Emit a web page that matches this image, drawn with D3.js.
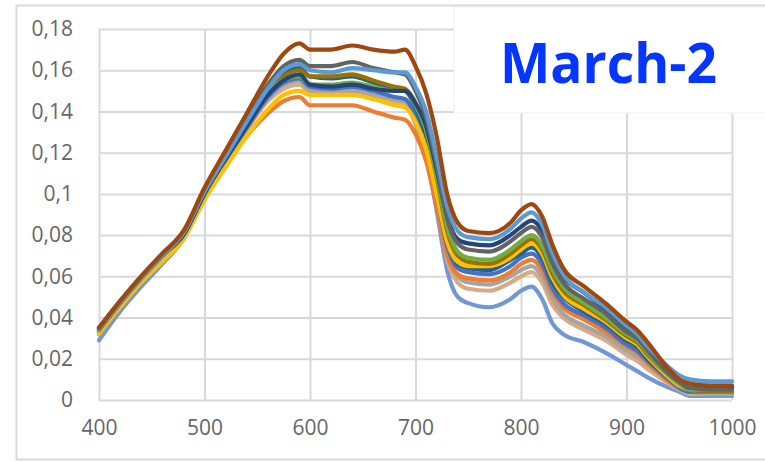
<!DOCTYPE html>
<html>
<head>
<meta charset="utf-8">
<script src="https://cdn.jsdelivr.net/npm/d3@7/dist/d3.min.js"></script>
<style>
  html, body { margin: 0; padding: 0; background: #fff; }
  svg { display: block; }
  .tick text { font-family: "Open Sans", sans-serif; font-size: 21px; fill: #666; }
</style>
</head>
<body>
<svg id="chart" width="765" height="462"></svg>
<script>
// Wavelength nodes (nm) shared by every reflectance spectrum
const wavelengths = [400,420,440,460,480,500,520,540,560,575,590,600,620,640,660,680,690,700,710,720,730,740,750,770,790,800,810,820,830,840,860,880,900,910,920,940,950,960,980,1000];

// Reflectance spectra, one array per sample
const sBrown = [.035,.048,.060,.071,.082,.103,.121,.139,.157,.168,.173,.170,.170,.172,.170,.169,.170,.162,.149,.128,.100,.086,.082,.081,.086,.092,.095,.089,.075,.064,.055,.047,.038,.034,.028,.015,.010,.008,.007,.007];
const sLightBlue = [.034,.047,.059,.070,.081,.101,.118,.135,.151,.160,.163,.160,.159,.161,.160,.159,.159,.152,.140,.118,.094,.082,.079,.078,.083,.088,.091,.085,.071,.061,.052,.045,.036,.032,.026,.016,.012,.010,.009,.009];
const sDarkGray = [.035,.048,.060,.071,.081,.102,.119,.136,.153,.162,.165,.162,.162,.164,.161,.159,.158,.150,.137,.114,.088,.076,.073,.072,.077,.081,.084,.079,.066,.057,.049,.042,.033,.030,.024,.013,.009,.006,.005,.005];
const sNavy = [.034,.047,.059,.070,.080,.100,.117,.133,.148,.155,.158,.153,.152,.153,.151,.150,.150,.144,.133,.112,.089,.078,.076,.075,.080,.084,.087,.082,.069,.060,.052,.044,.035,.031,.025,.013,.009,.006,.006,.006];
const sOlive = [.034,.047,.059,.070,.081,.101,.118,.134,.150,.157,.160,.157,.157,.158,.155,.152,.151,.144,.131,.108,.082,.070,.067,.066,.071,.075,.078,.073,.061,.053,.046,.039,.031,.028,.022,.012,.008,.005,.004,.004];
const sGreen = [.035,.048,.060,.070,.081,.101,.118,.134,.149,.155,.157,.153,.153,.154,.152,.150,.150,.143,.131,.109,.084,.072,.069,.068,.073,.077,.080,.075,.063,.055,.047,.040,.032,.029,.023,.012,.008,.005,.005,.005];
const sGray = [.033,.046,.058,.069,.080,.099,.116,.132,.146,.153,.155,.150,.149,.150,.148,.146,.145,.137,.123,.099,.071,.060,.057,.056,.060,.063,.065,.060,.049,.042,.036,.031,.024,.021,.017,.009,.005,.004,.003,.003];
const sSteel = [.034,.047,.059,.070,.080,.100,.117,.133,.149,.158,.161,.157,.156,.157,.154,.151,.150,.142,.128,.104,.078,.066,.064,.063,.068,.071,.074,.069,.057,.050,.043,.037,.029,.026,.020,.011,.007,.005,.004,.004];
const sBlue = [.032,.045,.057,.068,.079,.099,.116,.132,.147,.154,.156,.152,.151,.152,.150,.147,.146,.138,.124,.100,.075,.064,.062,.061,.065,.069,.071,.066,.054,.047,.041,.035,.027,.024,.019,.010,.006,.004,.004,.004];
const sOrange = [.033,.046,.058,.068,.079,.098,.114,.128,.139,.145,.147,.143,.143,.143,.140,.137,.136,.129,.116,.094,.070,.061,.059,.058,.062,.066,.068,.063,.052,.045,.039,.033,.026,.023,.018,.009,.006,.004,.004,.004];
const sYellow = [.032,.045,.057,.067,.078,.097,.113,.128,.141,.148,.150,.148,.148,.148,.146,.143,.142,.135,.122,.100,.077,.067,.065,.065,.069,.073,.076,.071,.059,.051,.044,.038,.030,.027,.021,.011,.007,.005,.004,.004];
const sTan = [.032,.045,.057,.068,.079,.098,.115,.131,.145,.151,.153,.149,.148,.149,.147,.144,.143,.135,.120,.096,.068,.057,.054,.053,.057,.060,.062,.057,.046,.040,.034,.029,.022,.019,.015,.008,.005,.003,.003,.003];
const sPaleBlue = [.029,.043,.055,.066,.078,.098,.115,.131,.147,.155,.157,.151,.150,.151,.148,.145,.144,.134,.118,.092,.063,.050,.047,.045,.049,.053,.055,.049,.037,.032,.028,.023,.017,.014,.011,.006,.004,.002,.002,.002];

const series = [
  { values: sPaleBlue, color: "#7097d6" },
  { values: sTan, color: "#d9aa84" },
  { values: sGray, color: "#a5a5a5" },
  { values: sOrange, color: "#ed7d31" },
  { values: sBlue, color: "#4472c4" },
  { values: sSteel, color: "#255e91" },
  { values: sYellow, color: "#ffc000" },
  { values: sOlive, color: "#997300" },
  { values: sGreen, color: "#70ad47" },
  { values: sNavy, color: "#264478" },
  { values: sDarkGray, color: "#636363" },
  { values: sLightBlue, color: "#5b9bd5" },
  { values: sBrown, color: "#9e480e" }
];

// Axis ticks
const xTicks = [400,500,600,700,800,900,1000];
const xTickLabels = ["400","500","600","700","800","900","1000"];
const yTicks = [0,0.02,0.04,0.06,0.08,0.1,0.12,0.14,0.16,0.18];
const yTickLabels = ["0","0,02","0,04","0,06","0,08","0,1","0,12","0,14","0,16","0,18"];
const titleText = "March-2";

const svg = d3.select("#chart");

// Chart frame
svg.append("rect")
  .attr("x", 16.5).attr("y", 5.5).attr("width", 760).attr("height", 454)
  .attr("fill", "#fff").attr("stroke", "#d9d9d9").attr("stroke-width", 2);

const x = d3.scaleLinear().domain([400, 1000]).range([99, 732]);
const y = d3.scaleLinear().domain([0, 0.18]).range([400, 29]);

// Horizontal gridlines + y labels
const yAxis = svg.append("g")
  .attr("transform", `translate(${x(400)},0)`)
  .call(d3.axisLeft(y)
    .tickValues(yTicks)
    .tickFormat((d, i) => yTickLabels[i])
    .tickSizeInner(-(x(1000) - x(400)))
    .tickSizeOuter(0)
    .tickPadding(26));
yAxis.select(".domain").remove();
yAxis.selectAll(".tick line").attr("stroke", "#d9d9d9").attr("stroke-width", 2);

// Vertical gridlines + x labels
const xAxis = svg.append("g")
  .attr("transform", `translate(0,${y(0)})`)
  .call(d3.axisBottom(x)
    .tickValues(xTicks)
    .tickFormat((d, i) => xTickLabels[i])
    .tickSizeInner(-(y(0) - y(0.18)))
    .tickSizeOuter(0)
    .tickPadding(20));
xAxis.select(".domain").remove();
xAxis.selectAll(".tick line").attr("stroke", "#d9d9d9").attr("stroke-width", 2);

// Spectra
const line = d3.line()
  .x((d, i) => x(wavelengths[i]))
  .y(d => y(d))
  .curve(d3.curveMonotoneX);

svg.append("g")
  .selectAll("path")
  .data(series)
  .join("path")
  .attr("d", d => line(d.values))
  .attr("fill", "none")
  .attr("stroke", d => d.color)
  .attr("stroke-width", 4.2)
  .attr("stroke-linejoin", "round")
  .attr("stroke-linecap", "round");

// Title panel
svg.append("rect")
  .attr("x", 454).attr("y", 7).attr("width", 320).attr("height", 106)
  .attr("fill", "#fff").attr("stroke", "#f0f0f0").attr("stroke-width", 1);

svg.append("text")
  .attr("x", 500).attr("y", 83)
  .attr("font-family", "'Open Sans', sans-serif")
  .attr("font-weight", 700)
  .attr("font-size", 56)
  .attr("fill", "#0536ff")
  .attr("textLength", 217)
  .attr("lengthAdjust", "spacingAndGlyphs")
  .text(titleText);
</script>
</body>
</html>
